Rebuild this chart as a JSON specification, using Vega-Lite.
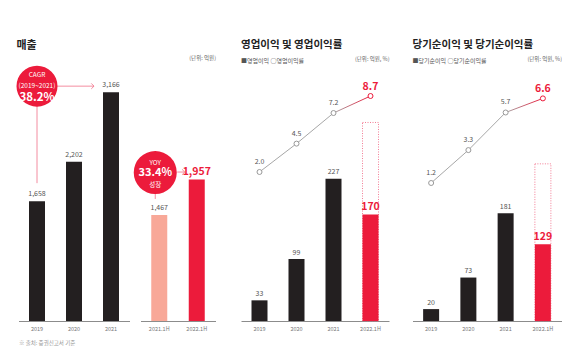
{
  "$schema": "https://vega.github.io/schema/vega-lite/v6.json",
  "padding": {"left": 16.5, "top": 39, "right": 0, "bottom": 0},
  "background": "white",
  "config": {
    "font": "Noto Sans CJK KR",
    "view": {"stroke": null},
    "axis": {"domainColor": "#8c8c8c", "domainWidth": 1, "ticks": false, "grid": false, "labelFontSize": 5.5, "labelColor": "#777", "labelPadding": 5, "labelAngle": 0}
  },
  "datasets": {
    "sales_a": [{"period": "2019", "value": 1658}, {"period": "2020", "value": 2202}, {"period": "2021", "value": 3166}],
    "sales_b": [{"period": "2021.1H", "value": 1467}, {"period": "2022.1H", "value": 1957}],
    "cagr": [{"period": "2019", "end": "2021", "value": 3166, "base": 1658, "title": "CAGR", "range": "(2019~2021)", "rate": "38.2%"}],
    "yoy": [{"period": "2021.1H", "end": "2022.1H", "value": 1957, "base": 1467, "title": "YOY", "rate": "33.4%", "note": "성장"}],
    "op": [
      {"period": "2019", "profit": 33, "margin": 2.0},
      {"period": "2020", "profit": 99, "margin": 4.5},
      {"period": "2021", "profit": 227, "margin": 7.2},
      {"period": "2022.1H", "profit": 170, "margin": 8.7, "outline": 317}
    ],
    "net": [
      {"period": "2019", "profit": 20, "margin": 1.2},
      {"period": "2020", "profit": 73, "margin": 3.3},
      {"period": "2021", "profit": 181, "margin": 5.7},
      {"period": "2022.1H", "profit": 129, "margin": 6.6, "outline": 264}
    ]
  },
  "spacing": 23,
  "resolve": {"scale": {"x": "independent", "y": "independent"}},
  "hconcat": [
    {
      "spacing": 25.5,
      "resolve": {"scale": {"x": "independent", "y": "independent"}},
      "hconcat": [
        {
          "spacing": 4,
          "resolve": {"scale": {"x": "independent", "y": "independent"}},
          "hconcat": [
            {
              "width": 111,
              "height": 253,
              "title": {"text": "매출", "anchor": "start", "fontSize": 11, "fontWeight": "bold", "color": "#222", "offset": 15},
              "encoding": {
                "x": {"field": "period", "type": "nominal", "scale": {"domain": ["2019", "2020", "2021"], "paddingInner": 0, "paddingOuter": 0},
                  "axis": {"title": "※ 출처: 증권신고서 기준", "titleX": 0, "titleY": 21, "titleAlign": "left", "titleBaseline": "middle", "titleFontSize": 5.5, "titleFontWeight": "normal", "titleColor": "#999"}}
              },
              "layer": [
                {
                  "data": {"name": "sales_a"},
                  "mark": {"type": "bar", "size": 16, "color": "#231f20"},
                  "encoding": {"y": {"field": "value", "type": "quantitative", "scale": {"domain": [0, 3480]}, "axis": null}}
                },
                {
                  "data": {"name": "sales_a"},
                  "mark": {"type": "text", "fontSize": 7, "color": "#555", "dy": -7, "baseline": "middle"},
                  "encoding": {"y": {"field": "value", "type": "quantitative"}, "text": {"field": "value", "type": "quantitative", "format": ","}}
                },
                {
                  "data": {"name": "cagr"},
                  "mark": {"type": "rule", "color": "#f07088", "strokeWidth": 0.8, "yOffset": -6, "y2Offset": -18},
                  "encoding": {"y": {"field": "value", "type": "quantitative"}, "y2": {"field": "base"}}
                },
                {
                  "data": {"name": "cagr"},
                  "mark": {"type": "rule", "color": "#f07088", "strokeWidth": 0.8, "xOffset": 20, "x2Offset": -17, "yOffset": -6},
                  "encoding": {"x2": {"field": "end"}, "y": {"field": "value", "type": "quantitative"}}
                },
                {
                  "data": {"name": "cagr"},
                  "mark": {"type": "point", "shape": "M-1,-1L0,0L-1,1", "filled": false, "color": "#f07088", "strokeWidth": 0.8, "size": 30, "opacity": 1, "xOffset": -17, "yOffset": -6},
                  "encoding": {"x": {"field": "end", "type": "nominal"}, "y": {"field": "value", "type": "quantitative"}}
                },
                {
                  "data": {"name": "cagr"},
                  "mark": {"type": "point", "shape": "circle", "filled": true, "color": "#ec1b3b", "size": 1681, "opacity": 1, "yOffset": -6},
                  "encoding": {"y": {"field": "value", "type": "quantitative"}}
                },
                {
                  "data": {"name": "cagr"},
                  "mark": {"type": "text", "fontSize": 6.5, "color": "white", "dy": -17.5, "baseline": "middle"},
                  "encoding": {"y": {"field": "value", "type": "quantitative"}, "text": {"field": "title"}}
                },
                {
                  "data": {"name": "cagr"},
                  "mark": {"type": "text", "fontSize": 6.5, "color": "white", "dy": -6, "baseline": "middle"},
                  "encoding": {"y": {"field": "value", "type": "quantitative"}, "text": {"field": "range"}}
                },
                {
                  "data": {"name": "cagr"},
                  "mark": {"type": "text", "fontSize": 11.5, "fontWeight": "bold", "color": "white", "dy": 5.5, "baseline": "middle"},
                  "encoding": {"y": {"field": "value", "type": "quantitative"}, "text": {"field": "rate"}}
                }
              ]
            },
            {
              "width": 75,
              "height": 253,
              "encoding": {
                "x": {"field": "period", "type": "nominal", "scale": {"domain": ["2021.1H", "2022.1H"], "paddingInner": 0, "paddingOuter": 0}, "axis": {"title": null}}
              },
              "layer": [
                {
                  "data": {"name": "sales_b"},
                  "mark": {"type": "bar", "size": 16},
                  "encoding": {
                    "y": {"field": "value", "type": "quantitative", "scale": {"domain": [0, 3252]},
                      "axis": {"orient": "right", "domain": false, "ticks": false, "labels": false, "grid": false, "title": "(단위: 억원)", "titleAngle": 0, "titleAlign": "right", "titleBaseline": "middle", "titleX": 0, "titleY": -10.5, "titleFontSize": 5.5, "titleFontWeight": "normal", "titleColor": "#666"}},
                    "color": {"condition": {"test": "datum.period === '2022.1H'", "value": "#ec1b3b"}, "value": "#f8a898"}
                  }
                },
                {
                  "data": {"name": "sales_b"},
                  "transform": [{"filter": "datum.period !== '2022.1H'"}],
                  "mark": {"type": "text", "fontSize": 7, "color": "#555", "dy": -7, "baseline": "middle"},
                  "encoding": {"y": {"field": "value", "type": "quantitative"}, "text": {"field": "value", "type": "quantitative", "format": ","}}
                },
                {
                  "data": {"name": "sales_b"},
                  "transform": [{"filter": "datum.period === '2022.1H'"}],
                  "mark": {"type": "text", "fontSize": 10.5, "fontWeight": "bold", "color": "#ec1b3b", "dy": -7.5, "baseline": "middle"},
                  "encoding": {"y": {"field": "value", "type": "quantitative"}, "text": {"field": "value", "type": "quantitative", "format": ","}}
                },
                {
                  "data": {"name": "yoy"},
                  "mark": {"type": "rule", "color": "#f07088", "strokeWidth": 0.8, "xOffset": -4, "yOffset": -7, "y2Offset": -16},
                  "encoding": {"y": {"field": "value", "type": "quantitative"}, "y2": {"field": "base"}}
                },
                {
                  "data": {"name": "yoy"},
                  "mark": {"type": "rule", "color": "#f07088", "strokeWidth": 0.8, "xOffset": 18, "x2Offset": -12, "yOffset": -7.5},
                  "encoding": {"x2": {"field": "end"}, "y": {"field": "value", "type": "quantitative"}}
                },
                {
                  "data": {"name": "yoy"},
                  "mark": {"type": "point", "shape": "M-1,-1L0,0L-1,1", "filled": false, "color": "#f07088", "strokeWidth": 0.8, "size": 30, "opacity": 1, "xOffset": -12, "yOffset": -7.5},
                  "encoding": {"x": {"field": "end", "type": "nominal"}, "y": {"field": "value", "type": "quantitative"}}
                },
                {
                  "data": {"name": "yoy"},
                  "mark": {"type": "point", "shape": "circle", "filled": true, "color": "#ec1b3b", "size": 1850, "opacity": 1, "xOffset": -4, "yOffset": -7},
                  "encoding": {"y": {"field": "value", "type": "quantitative"}}
                },
                {
                  "data": {"name": "yoy"},
                  "mark": {"type": "text", "fontSize": 6.5, "color": "white", "dx": -4, "dy": -16.5, "baseline": "middle"},
                  "encoding": {"y": {"field": "value", "type": "quantitative"}, "text": {"field": "title"}}
                },
                {
                  "data": {"name": "yoy"},
                  "mark": {"type": "text", "fontSize": 11, "fontWeight": "bold", "color": "white", "dx": -4, "dy": -6.5, "baseline": "middle"},
                  "encoding": {"y": {"field": "value", "type": "quantitative"}, "text": {"field": "rate"}}
                },
                {
                  "data": {"name": "yoy"},
                  "mark": {"type": "text", "fontSize": 6.5, "color": "white", "dx": -4, "dy": 5.5, "baseline": "middle"},
                  "encoding": {"y": {"field": "value", "type": "quantitative"}, "text": {"field": "note"}}
                }
              ]
            }
          ]
        },
        {
          "width": 148,
          "height": 253,
          "title": {"text": "영업이익 및 영업이익률", "subtitle": "■영업이익  ○영업이익률", "anchor": "start", "fontSize": 10.5, "fontWeight": "bold", "color": "#222", "subtitleFontSize": 6, "subtitleColor": "#555", "subtitlePadding": 7, "offset": -7},
          "data": {"name": "op"},
          "encoding": {
            "x": {"field": "period", "type": "nominal", "scale": {"domain": ["2019", "2020", "2021", "2022.1H"], "paddingInner": 0, "paddingOuter": 0}, "axis": {"title": null}}
          },
          "resolve": {"scale": {"y": "independent"}},
          "layer": [
            {
              "transform": [{"filter": "isValid(datum.outline)"}],
              "mark": {"type": "bar", "size": 16, "fill": "transparent", "stroke": "#f05a78", "strokeWidth": 0.8, "strokeDash": [1, 1.5]},
              "encoding": {"y": {"field": "outline", "type": "quantitative", "scale": {"domain": [0, 404]}, "axis": null}}
            },
            {
              "mark": {"type": "bar", "size": 16},
              "encoding": {
                "y": {"field": "profit", "type": "quantitative", "scale": {"domain": [0, 404]},
                  "axis": {"orient": "right", "domain": false, "ticks": false, "labels": false, "grid": false, "title": "(단위: 억원, %)", "titleAngle": 0, "titleAlign": "right", "titleBaseline": "middle", "titleX": 0, "titleY": -9.5, "titleFontSize": 5.5, "titleFontWeight": "normal", "titleColor": "#666"}},
                "color": {"condition": {"test": "datum.period === '2022.1H'", "value": "#ec1b3b"}, "value": "#231f20"}
              }
            },
            {
              "transform": [{"filter": "datum.period !== '2022.1H'"}],
              "mark": {"type": "text", "fontSize": 7, "color": "#555", "dy": -6.5, "baseline": "middle"},
              "encoding": {"y": {"field": "profit", "type": "quantitative", "scale": {"domain": [0, 404]}, "axis": null}, "text": {"field": "profit", "type": "quantitative"}}
            },
            {
              "transform": [{"filter": "datum.period === '2022.1H'"}],
              "mark": {"type": "text", "fontSize": 10.5, "fontWeight": "bold", "color": "#ec1b3b", "dy": -7.5, "baseline": "middle"},
              "encoding": {"y": {"field": "profit", "type": "quantitative", "scale": {"domain": [0, 404]}, "axis": null}, "text": {"field": "profit", "type": "quantitative"}}
            },
            {
              "mark": {"type": "line", "strokeWidth": 1, "stroke": {"gradient": "linear", "x1": 0, "y1": 0, "x2": 1, "y2": 0, "stops": [{"offset": 0, "color": "#a6a6a6"}, {"offset": 0.67, "color": "#a6a6a6"}, {"offset": 1, "color": "#ec1b3b"}]}},
              "encoding": {"y": {"field": "margin", "type": "quantitative", "scale": {"domain": [-11.14, 11.17]}, "axis": null}}
            },
            {
              "mark": {"type": "point", "filled": false, "fill": "white", "size": 25, "strokeWidth": 1, "opacity": 1},
              "encoding": {
                "y": {"field": "margin", "type": "quantitative", "scale": {"domain": [-11.14, 11.17]}, "axis": null},
                "color": {"condition": {"test": "datum.period === '2022.1H'", "value": "#ec1b3b"}, "value": "#999999"}
              }
            },
            {
              "transform": [{"filter": "datum.period !== '2022.1H'"}],
              "mark": {"type": "text", "fontSize": 7, "color": "#555", "dy": -10, "baseline": "middle"},
              "encoding": {"y": {"field": "margin", "type": "quantitative", "scale": {"domain": [-11.14, 11.17]}, "axis": null}, "text": {"field": "margin", "type": "quantitative", "format": ".1f"}}
            },
            {
              "transform": [{"filter": "datum.period === '2022.1H'"}],
              "mark": {"type": "text", "fontSize": 10.5, "fontWeight": "bold", "color": "#ec1b3b", "dy": -9, "baseline": "middle"},
              "encoding": {"y": {"field": "margin", "type": "quantitative", "scale": {"domain": [-11.14, 11.17]}, "axis": null}, "text": {"field": "margin", "type": "quantitative", "format": ".1f"}}
            }
          ]
        }
      ]
    },
    {
      "width": 149,
      "height": 253,
      "title": {"text": "당기순이익 및 당기순이익률", "subtitle": "■당기순이익  ○당기순이익률", "anchor": "start", "fontSize": 10.5, "fontWeight": "bold", "color": "#222", "subtitleFontSize": 6, "subtitleColor": "#555", "subtitlePadding": 7, "offset": -7},
      "data": {"name": "net"},
      "encoding": {
        "x": {"field": "period", "type": "nominal", "scale": {"domain": ["2019", "2020", "2021", "2022.1H"], "paddingInner": 0, "paddingOuter": 0}, "axis": {"title": null}}
      },
      "resolve": {"scale": {"y": "independent"}},
      "layer": [
        {
          "transform": [{"filter": "isValid(datum.outline)"}],
          "mark": {"type": "bar", "size": 16, "fill": "transparent", "stroke": "#f05a78", "strokeWidth": 0.8, "strokeDash": [1, 1.5]},
          "encoding": {"y": {"field": "outline", "type": "quantitative", "scale": {"domain": [0, 425]}, "axis": null}}
        },
        {
          "mark": {"type": "bar", "size": 16},
          "encoding": {
            "y": {"field": "profit", "type": "quantitative", "scale": {"domain": [0, 425]},
              "axis": {"orient": "right", "domain": false, "ticks": false, "labels": false, "grid": false, "title": "(단위: 억원, %)", "titleAngle": 0, "titleAlign": "right", "titleBaseline": "middle", "titleX": 0, "titleY": -9.5, "titleFontSize": 5.5, "titleFontWeight": "normal", "titleColor": "#666"}},
            "color": {"condition": {"test": "datum.period === '2022.1H'", "value": "#ec1b3b"}, "value": "#231f20"}
          }
        },
        {
          "transform": [{"filter": "datum.period !== '2022.1H'"}],
          "mark": {"type": "text", "fontSize": 7, "color": "#555", "dy": -6.5, "baseline": "middle"},
          "encoding": {"y": {"field": "profit", "type": "quantitative", "scale": {"domain": [0, 425]}, "axis": null}, "text": {"field": "profit", "type": "quantitative"}}
        },
        {
          "transform": [{"filter": "datum.period === '2022.1H'"}],
          "mark": {"type": "text", "fontSize": 10.5, "fontWeight": "bold", "color": "#ec1b3b", "dy": -7.5, "baseline": "middle"},
          "encoding": {"y": {"field": "profit", "type": "quantitative", "scale": {"domain": [0, 425]}, "axis": null}, "text": {"field": "profit", "type": "quantitative"}}
        },
        {
          "mark": {"type": "line", "strokeWidth": 1, "stroke": {"gradient": "linear", "x1": 0, "y1": 0, "x2": 1, "y2": 0, "stops": [{"offset": 0, "color": "#a6a6a6"}, {"offset": 0.67, "color": "#a6a6a6"}, {"offset": 1, "color": "#ec1b3b"}]}},
          "encoding": {"y": {"field": "margin", "type": "quantitative", "scale": {"domain": [-7.61, 8.54]}, "axis": null}}
        },
        {
          "mark": {"type": "point", "filled": false, "fill": "white", "size": 25, "strokeWidth": 1, "opacity": 1},
          "encoding": {
            "y": {"field": "margin", "type": "quantitative", "scale": {"domain": [-7.61, 8.54]}, "axis": null},
            "color": {"condition": {"test": "datum.period === '2022.1H'", "value": "#ec1b3b"}, "value": "#999999"}
          }
        },
        {
          "transform": [{"filter": "datum.period !== '2022.1H'"}],
          "mark": {"type": "text", "fontSize": 7, "color": "#555", "dy": -10, "baseline": "middle"},
          "encoding": {"y": {"field": "margin", "type": "quantitative", "scale": {"domain": [-7.61, 8.54]}, "axis": null}, "text": {"field": "margin", "type": "quantitative", "format": ".1f"}}
        },
        {
          "transform": [{"filter": "datum.period === '2022.1H'"}],
          "mark": {"type": "text", "fontSize": 10.5, "fontWeight": "bold", "color": "#ec1b3b", "dy": -9, "baseline": "middle"},
          "encoding": {"y": {"field": "margin", "type": "quantitative", "scale": {"domain": [-7.61, 8.54]}, "axis": null}, "text": {"field": "margin", "type": "quantitative", "format": ".1f"}}
        }
      ]
    }
  ]
}
